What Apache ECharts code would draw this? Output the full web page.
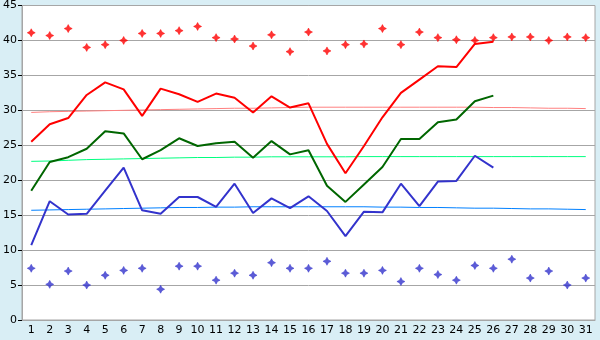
<!DOCTYPE html>
<html>
<head>
<meta charset="utf-8">
<script src="https://cdn.jsdelivr.net/npm/echarts@6/dist/echarts.min.js"></script>
<style>
  html, body { margin: 0; padding: 0; background: #d9eef5; }
  #chart { width: 600px; height: 340px; }
</style>
</head>
<body>
<div id="chart"></div>
<script>
let days = ['1', '2', '3', '4', '5', '6', '7', '8', '9', '10', '11', '12', '13', '14', '15', '16',
  '17', '18', '19', '20', '21', '22', '23', '24', '25', '26', '27', '28', '29', '30', '31'];

let redLine = [25.5, 28.0, 28.9, 32.2, 34.0, 33.0, 29.2, 33.1, 32.3, 31.2, 32.4, 31.8, 29.7, 32.0, 30.4, 31.0,
  25.2, 21.0, 24.9, 29.0, 32.5, 34.4, 36.3, 36.2, 39.5, 39.8];
let greenLine = [18.5, 22.6, 23.3, 24.5, 27.0, 26.7, 23.0, 24.3, 26.0, 24.9, 25.3, 25.5, 23.2, 25.6, 23.7, 24.3,
  19.2, 16.9, 19.4, 21.9, 25.9, 25.9, 28.3, 28.7, 31.3, 32.1];
let blueLine = [10.7, 17.0, 15.1, 15.2, 18.5, 21.8, 15.7, 15.2, 17.6, 17.6, 16.2, 19.5, 15.3, 17.4, 16.0, 17.7,
  15.6, 12.0, 15.5, 15.4, 19.5, 16.3, 19.8, 19.9, 23.5, 21.8];

let redMarks = [41.1, 40.7, 41.7, 39.0, 39.4, 40.0, 41.0, 41.0, 41.4, 42.0, 40.4, 40.2, 39.2, 40.8, 38.4, 41.2,
  38.5, 39.4, 39.5, 41.7, 39.4, 41.2, 40.4, 40.1, 40.0, 40.4, 40.5, 40.5, 40.0, 40.5, 40.4];
let blueMarks = [7.4, 5.1, 7.0, 5.0, 6.4, 7.1, 7.4, 4.4, 7.7, 7.7, 5.7, 6.7, 6.4, 8.2, 7.4, 7.4,
  8.4, 6.7, 6.7, 7.1, 5.5, 7.4, 6.5, 5.7, 7.8, 7.4, 8.7, 6.0, 7.0, 5.0, 6.0];

// trend lines
let redTrend = [29.7, 29.8, 29.85, 29.9, 29.95, 30.0, 30.05, 30.1, 30.15, 30.2, 30.25, 30.3, 30.3, 30.35, 30.4, 30.45,
  30.45, 30.45, 30.45, 30.45, 30.45, 30.45, 30.45, 30.45, 30.45, 30.4, 30.4, 30.35, 30.3, 30.3, 30.25];
let greenTrend = [22.7, 22.75, 22.85, 22.95, 23.0, 23.05, 23.1, 23.15, 23.2, 23.25, 23.25, 23.3, 23.3, 23.35, 23.35, 23.35,
  23.35, 23.35, 23.38, 23.38, 23.38, 23.38, 23.38, 23.38, 23.38, 23.38, 23.38, 23.38, 23.38, 23.38, 23.38];
let blueTrend = [15.7, 15.75, 15.8, 15.85, 15.9, 15.95, 16.0, 16.05, 16.1, 16.1, 16.15, 16.15, 16.2, 16.2, 16.2, 16.2,
  16.2, 16.2, 16.2, 16.15, 16.15, 16.1, 16.1, 16.05, 16.0, 16.0, 15.95, 15.9, 15.9, 15.85, 15.8];

let yTicks = { min: 0, max: 45, interval: 5 };

// small four point star like the old excel marker
let starMark = 'path://M4,0 L5.4,2.6 L8,4 L5.4,5.4 L4,8 L2.6,5.4 L0,4 L2.6,2.6 Z';

let chart = echarts.init(document.getElementById('chart'));

let lineSeries = (data, color, width, z) => {
  return {
    type: 'line',
    data: data,
    symbol: 'none',
    silent: true,
    z: z,
    lineStyle: { color: color, width: width }
  };
};

let markSeries = (data, color) => {
  return {
    type: 'scatter',
    data: data,
    symbol: starMark,
    symbolSize: 8,
    z: 5,
    itemStyle: { color: color, borderColor: color, borderWidth: 0.6 }
  };
};

chart.setOption({
  animation: false,
  backgroundColor: '#d9eef5',
  textStyle: { fontFamily: 'DejaVu Sans' },
  grid: {
    left: 21,
    right: 5,
    top: 5,
    bottom: 20,
    show: true,
    backgroundColor: '#ffffff',
    borderColor: '#a6a6a6',
    borderWidth: 1
  },
  xAxis: {
    type: 'category',
    data: days,
    boundaryGap: true,
    axisLine: { lineStyle: { color: '#a6a6a6' } },
    axisTick: { alignWithLabel: true, length: 4, lineStyle: { color: '#000000' } },
    axisLabel: { color: '#000000', fontSize: 11, margin: 5, interval: 0 },
    splitLine: { show: false }
  },
  yAxis: {
    type: 'value',
    min: yTicks.min,
    max: yTicks.max,
    interval: yTicks.interval,
    axisLine: { show: true, lineStyle: { color: '#a6a6a6' } },
    axisTick: { show: true, length: 4, lineStyle: { color: '#000000' } },
    axisLabel: { color: '#000000', fontSize: 11, margin: 5 },
    splitLine: { lineStyle: { color: '#a6a6a6', width: 1 } }
  },
  series: [
    lineSeries(redTrend, '#ff8080', 1, 2),
    lineSeries(greenTrend, '#00ff80', 1, 2),
    lineSeries(blueTrend, '#0080ff', 1, 2),
    lineSeries(redLine, '#ff0000', 2, 3),
    lineSeries(greenLine, '#006600', 2, 3),
    lineSeries(blueLine, '#3333cc', 2, 3),
    markSeries(redMarks, '#ff0000'),
    markSeries(blueMarks, '#3333cc')
  ]
});
</script>
</body>
</html>
